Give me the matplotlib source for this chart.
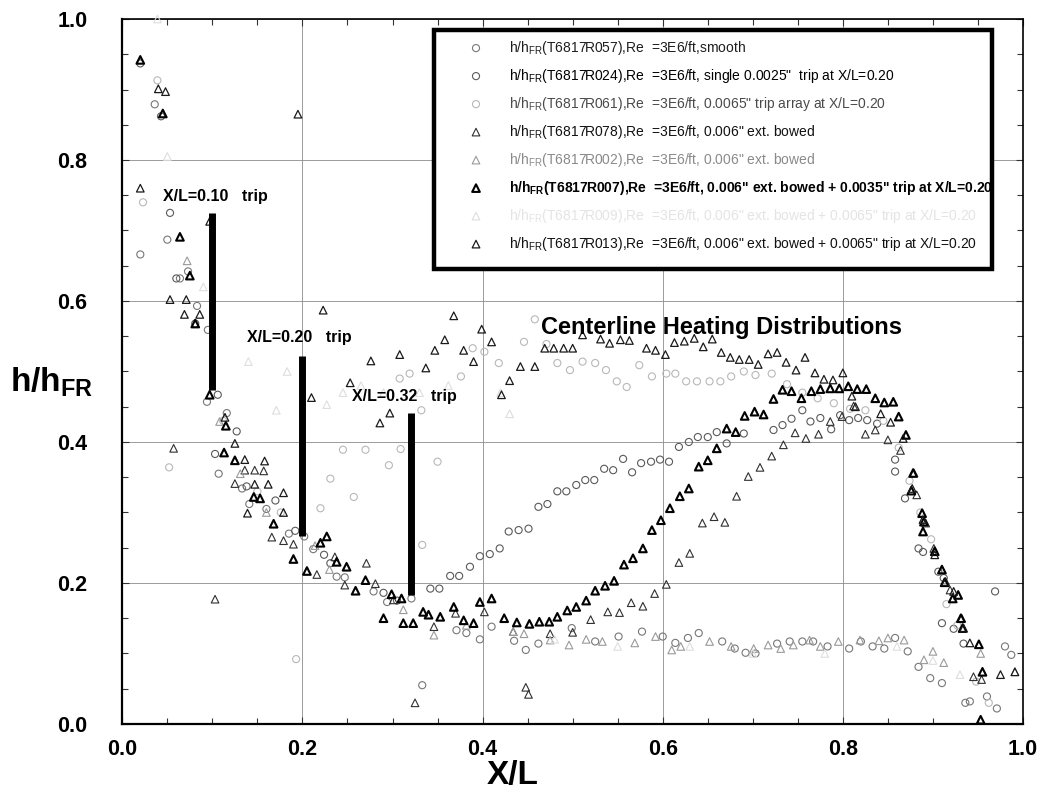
import numpy as np
import matplotlib
matplotlib.use("Agg")
import matplotlib.pyplot as plt
from matplotlib.patches import Rectangle
from matplotlib.ticker import MultipleLocator

plt.rcParams["font.family"] = ["Liberation Sans", "DejaVu Sans"]
plt.rcParams["mathtext.fontset"] = "custom"
plt.rcParams["mathtext.rm"] = "Liberation Sans"
plt.rcParams["mathtext.it"] = "Liberation Sans:italic"
plt.rcParams["mathtext.bf"] = "Liberation Sans:bold"

# ---- centerline heating data, columns: X/L, h/h_FR ----
run_R057 = np.array([
    [0.020, 0.666], [0.036, 0.879], [0.050, 0.687], [0.064, 0.632], [0.073, 0.642],
    [0.083, 0.593], [0.095, 0.559], [0.094, 0.457], [0.116, 0.441], [0.107, 0.355],
    [0.133, 0.334], [0.141, 0.312], [0.160, 0.305], [0.185, 0.270], [0.202, 0.266],
    [0.212, 0.248], [0.238, 0.209], [0.247, 0.208], [0.279, 0.188], [0.294, 0.173],
    [0.321, 0.178], [0.333, 0.055], [0.371, 0.133], [0.382, 0.129], [0.397, 0.120],
    [0.410, 0.138], [0.435, 0.118], [0.448, 0.105], [0.462, 0.114], [0.499, 0.136],
    [0.525, 0.117], [0.551, 0.124], [0.577, 0.131], [0.600, 0.124], [0.614, 0.115],
    [0.628, 0.122], [0.640, 0.129], [0.666, 0.117], [0.680, 0.107], [0.692, 0.101],
    [0.703, 0.100], [0.727, 0.114], [0.741, 0.117], [0.755, 0.117], [0.767, 0.117],
    [0.783, 0.110], [0.807, 0.107], [0.820, 0.117], [0.833, 0.110], [0.846, 0.107],
    [0.858, 0.122], [0.872, 0.103], [0.884, 0.081], [0.897, 0.065], [0.910, 0.058],
    [0.936, 0.030], [0.941, 0.032], [0.960, 0.039], [0.971, 0.022], [0.980, 0.110],
    [0.987, 0.098],
])

run_R024 = np.array([
    [0.020, 0.937], [0.043, 0.862], [0.053, 0.725], [0.060, 0.632], [0.081, 0.568],
    [0.106, 0.467], [0.103, 0.383], [0.127, 0.415], [0.138, 0.337], [0.170, 0.317],
    [0.192, 0.274], [0.224, 0.240], [0.231, 0.228], [0.290, 0.186], [0.305, 0.175],
    [0.342, 0.192], [0.352, 0.192], [0.364, 0.210], [0.374, 0.210], [0.386, 0.223],
    [0.397, 0.238], [0.408, 0.241], [0.419, 0.249], [0.429, 0.273], [0.440, 0.275],
    [0.451, 0.277], [0.462, 0.308], [0.472, 0.312], [0.483, 0.330], [0.493, 0.330],
    [0.504, 0.339], [0.514, 0.346], [0.524, 0.346], [0.535, 0.362], [0.545, 0.360],
    [0.556, 0.376], [0.566, 0.357], [0.576, 0.370], [0.587, 0.372], [0.597, 0.375],
    [0.607, 0.372], [0.618, 0.393], [0.629, 0.400], [0.639, 0.407], [0.650, 0.407],
    [0.660, 0.414], [0.671, 0.398], [0.690, 0.412], [0.723, 0.417], [0.733, 0.424],
    [0.743, 0.433], [0.755, 0.445], [0.764, 0.429], [0.775, 0.434], [0.787, 0.418],
    [0.797, 0.438], [0.807, 0.431], [0.817, 0.434], [0.827, 0.431], [0.838, 0.426],
    [0.858, 0.375], [0.858, 0.358], [0.869, 0.320], [0.884, 0.249], [0.889, 0.244],
    [0.906, 0.216], [0.912, 0.207], [0.910, 0.143], [0.923, 0.135], [0.934, 0.114],
    [0.969, 0.188],
])

run_R061 = np.array([
    [0.039, 0.913], [0.023, 0.740], [0.052, 0.364], [0.112, 0.430], [0.150, 0.330],
    [0.176, 0.300], [0.193, 0.092], [0.220, 0.306], [0.231, 0.348], [0.245, 0.389],
    [0.257, 0.322], [0.270, 0.389], [0.296, 0.367], [0.309, 0.390], [0.333, 0.254],
    [0.308, 0.490], [0.319, 0.497], [0.332, 0.445], [0.350, 0.372], [0.376, 0.493],
    [0.389, 0.533], [0.402, 0.528], [0.418, 0.512], [0.446, 0.542], [0.458, 0.574],
    [0.471, 0.539], [0.483, 0.512], [0.497, 0.502], [0.511, 0.514], [0.525, 0.512],
    [0.537, 0.502], [0.549, 0.486], [0.560, 0.478], [0.574, 0.509], [0.588, 0.493],
    [0.604, 0.497], [0.614, 0.497], [0.626, 0.486], [0.638, 0.486], [0.652, 0.486],
    [0.664, 0.486], [0.676, 0.493], [0.690, 0.500], [0.703, 0.495], [0.721, 0.497],
    [0.738, 0.482], [0.755, 0.470], [0.772, 0.462], [0.790, 0.455], [0.808, 0.447],
    [0.825, 0.445], [0.845, 0.430], [0.862, 0.392], [0.874, 0.345], [0.886, 0.300],
    [0.898, 0.262], [0.915, 0.170], [0.927, 0.140], [0.948, 0.060], [0.962, 0.030],
])

run_R078 = np.array([
    [0.057, 0.391], [0.103, 0.177], [0.125, 0.341], [0.136, 0.360], [0.147, 0.360],
    [0.157, 0.359], [0.166, 0.265], [0.179, 0.260], [0.190, 0.255], [0.216, 0.212],
    [0.236, 0.237], [0.247, 0.197], [0.271, 0.228], [0.281, 0.199], [0.301, 0.176],
    [0.325, 0.030], [0.346, 0.138], [0.370, 0.157], [0.402, 0.159], [0.434, 0.131],
    [0.448, 0.052], [0.451, 0.042], [0.475, 0.128], [0.500, 0.130], [0.520, 0.148],
    [0.539, 0.159], [0.552, 0.158], [0.565, 0.172], [0.578, 0.167], [0.591, 0.185],
    [0.604, 0.198], [0.618, 0.229], [0.630, 0.242], [0.644, 0.285], [0.657, 0.294],
    [0.669, 0.286], [0.682, 0.323], [0.695, 0.351], [0.708, 0.364], [0.721, 0.380],
    [0.734, 0.396], [0.747, 0.413], [0.759, 0.405], [0.773, 0.411], [0.786, 0.429],
    [0.799, 0.436], [0.812, 0.451], [0.825, 0.411], [0.836, 0.417], [0.850, 0.403],
    [0.864, 0.388], [0.879, 0.356], [0.882, 0.325], [0.892, 0.285], [0.901, 0.249],
    [0.910, 0.219], [0.919, 0.190], [0.932, 0.150], [0.945, 0.067], [0.954, 0.063],
])

run_R002 = np.array([
    [0.072, 0.657], [0.108, 0.429], [0.131, 0.355], [0.160, 0.300], [0.214, 0.253],
    [0.230, 0.219], [0.312, 0.162], [0.346, 0.126], [0.382, 0.140], [0.434, 0.131],
    [0.446, 0.128], [0.475, 0.119], [0.496, 0.112], [0.515, 0.120], [0.533, 0.117],
    [0.569, 0.115], [0.592, 0.124], [0.610, 0.105], [0.620, 0.110], [0.652, 0.117],
    [0.676, 0.110], [0.701, 0.107], [0.717, 0.112], [0.731, 0.107], [0.745, 0.112],
    [0.763, 0.119], [0.775, 0.110], [0.795, 0.117], [0.819, 0.119], [0.840, 0.118],
    [0.850, 0.122], [0.868, 0.119], [0.890, 0.091], [0.900, 0.103], [0.912, 0.087],
    [0.953, 0.100], [0.991, 0.074],
])

run_R007 = np.array([
    [0.020, 0.942], [0.045, 0.866], [0.064, 0.691], [0.075, 0.636], [0.081, 0.568],
    [0.097, 0.467], [0.115, 0.423], [0.113, 0.385], [0.125, 0.374], [0.146, 0.322],
    [0.153, 0.320], [0.168, 0.284], [0.190, 0.234], [0.205, 0.217], [0.220, 0.257],
    [0.227, 0.266], [0.238, 0.230], [0.249, 0.223], [0.270, 0.204], [0.259, 0.189],
    [0.299, 0.184], [0.310, 0.178], [0.290, 0.150], [0.312, 0.143], [0.323, 0.143],
    [0.334, 0.159], [0.340, 0.155], [0.353, 0.152], [0.368, 0.166], [0.379, 0.147],
    [0.390, 0.143], [0.397, 0.173], [0.410, 0.178], [0.424, 0.150], [0.438, 0.144],
    [0.452, 0.142], [0.463, 0.145], [0.474, 0.145], [0.483, 0.152], [0.494, 0.161],
    [0.504, 0.166], [0.515, 0.175], [0.525, 0.189], [0.536, 0.196], [0.546, 0.203],
    [0.557, 0.226], [0.567, 0.235], [0.578, 0.249], [0.588, 0.275], [0.598, 0.289],
    [0.608, 0.306], [0.619, 0.323], [0.629, 0.334], [0.640, 0.365], [0.650, 0.374],
    [0.660, 0.391], [0.671, 0.419], [0.681, 0.414], [0.691, 0.437], [0.702, 0.443],
    [0.712, 0.439], [0.723, 0.461], [0.733, 0.474], [0.743, 0.472], [0.754, 0.462],
    [0.765, 0.472], [0.775, 0.475], [0.786, 0.476], [0.796, 0.476], [0.806, 0.479],
    [0.816, 0.475], [0.826, 0.475], [0.836, 0.462], [0.846, 0.456], [0.856, 0.457],
    [0.862, 0.436], [0.870, 0.410], [0.878, 0.356], [0.876, 0.331], [0.888, 0.299],
    [0.890, 0.287], [0.889, 0.273], [0.902, 0.245], [0.910, 0.219], [0.913, 0.201],
    [0.922, 0.178], [0.928, 0.183], [0.931, 0.150], [0.933, 0.136], [0.951, 0.113],
    [0.955, 0.074], [0.953, 0.006],
])

run_R009 = np.array([
    [0.039, 1.000], [0.050, 0.805], [0.090, 0.620], [0.140, 0.514], [0.171, 0.445],
    [0.183, 0.500], [0.227, 0.453], [0.245, 0.470], [0.265, 0.480], [0.290, 0.470],
    [0.330, 0.470], [0.362, 0.480], [0.420, 0.470], [0.430, 0.440], [0.480, 0.120],
    [0.550, 0.110], [0.630, 0.110], [0.700, 0.100], [0.780, 0.100], [0.860, 0.110],
    [0.900, 0.090], [0.930, 0.070],
])

run_R013 = np.array([
    [0.020, 0.760], [0.040, 0.901], [0.048, 0.897], [0.053, 0.602], [0.069, 0.581],
    [0.071, 0.602], [0.086, 0.581], [0.097, 0.713], [0.114, 0.435], [0.125, 0.398],
    [0.136, 0.375], [0.158, 0.373], [0.147, 0.340], [0.162, 0.340], [0.179, 0.328],
    [0.139, 0.299], [0.179, 0.300], [0.195, 0.865], [0.210, 0.463], [0.223, 0.587],
    [0.253, 0.484], [0.276, 0.515], [0.286, 0.427], [0.297, 0.441], [0.308, 0.524],
    [0.337, 0.505], [0.347, 0.530], [0.358, 0.545], [0.368, 0.579], [0.379, 0.530],
    [0.390, 0.514], [0.399, 0.560], [0.410, 0.542], [0.421, 0.467], [0.430, 0.487],
    [0.442, 0.507], [0.458, 0.507], [0.469, 0.533], [0.479, 0.533], [0.490, 0.533],
    [0.500, 0.533], [0.511, 0.552], [0.531, 0.546], [0.541, 0.540], [0.553, 0.545],
    [0.563, 0.544], [0.582, 0.533], [0.592, 0.530], [0.603, 0.524], [0.613, 0.541],
    [0.624, 0.543], [0.635, 0.547], [0.645, 0.535], [0.655, 0.546], [0.665, 0.527],
    [0.675, 0.520], [0.685, 0.517], [0.696, 0.517], [0.706, 0.510], [0.717, 0.525],
    [0.727, 0.527], [0.737, 0.513], [0.748, 0.502], [0.758, 0.520], [0.769, 0.498],
    [0.779, 0.489], [0.789, 0.488], [0.800, 0.498], [0.810, 0.465], [0.814, 0.450],
    [0.842, 0.440], [0.853, 0.428], [0.867, 0.405], [0.877, 0.334], [0.889, 0.290],
    [0.902, 0.240], [0.914, 0.202], [0.923, 0.188], [0.934, 0.136], [0.941, 0.115],
    [0.975, 0.070], [0.991, 0.074],
])

# trip locations and the extent of the marker bars
trip_x = [0.10, 0.20, 0.32]
trip_bar_lo = [0.474, 0.266, 0.183]
trip_bar_hi = [0.725, 0.522, 0.441]
trip_labels = ["X/L=0.10   trip", "X/L=0.20   trip", "X/L=0.32   trip"]
trip_label_xy = [(0.045, 0.748), (0.139, 0.548), (0.255, 0.464)]

x_ticks = [0.0, 0.2, 0.4, 0.6, 0.8, 1.0]
x_tick_labels = ["0.0", "0.2", "0.4", "0.6", "0.8", "1.0"]
y_ticks = [0.0, 0.2, 0.4, 0.6, 0.8, 1.0]
y_tick_labels = ["0.0", "0.2", "0.4", "0.6", "0.8", "1.0"]

HH = r"$\mathregular{h/h_{FR}}$"
HHB = r"$\mathbf{h/h_{FR}}$"
series = [
    # data, marker, edge colour, edge width, label, label colour
    (run_R057, "o", "#777777", 0.8,
     HH + "(T6817R057),Re  =3E6/ft,smooth", "#1e1e1e"),
    (run_R024, "o", "#5a5a5a", 0.8,
     HH + "(T6817R024),Re  =3E6/ft, single 0.0025\"  trip at X/L=0.20", "#000000"),
    (run_R061, "o", "#b8b8b8", 0.8,
     HH + "(T6817R061),Re  =3E6/ft, 0.0065\" trip array at X/L=0.20", "#4a4a4a"),
    (run_R078, "^", "#303030", 0.8,
     HH + "(T6817R078),Re  =3E6/ft, 0.006\" ext. bowed", "#111111"),
    (run_R002, "^", "#9a9a9a", 0.8,
     HH + "(T6817R002),Re  =3E6/ft, 0.006\" ext. bowed", "#8a8a8a"),
    (run_R007, "^", "#000000", 1.5,
     HHB + "(T6817R007),Re  =3E6/ft, 0.006\" ext. bowed + 0.0035\" trip at X/L=0.20", "#000000"),
    (run_R009, "^", "#dedede", 0.8,
     HH + "(T6817R009),Re  =3E6/ft, 0.006\" ext. bowed + 0.0065\" trip at X/L=0.20", "#e4e4e4"),
    (run_R013, "^", "#1a1a1a", 0.9,
     HH + "(T6817R013),Re  =3E6/ft, 0.006\" ext. bowed + 0.0065\" trip at X/L=0.20", "#111111"),
]

fig = plt.figure(figsize=(10.39, 8.02), dpi=100)
ax = fig.add_axes([0.1177, 0.0973, 0.8669, 0.8790])

draw_order = [6, 2, 4, 0, 1, 3, 7, 5]
handles = [None] * len(series)
for i in draw_order:
    data, mk, col, lw, lab, _ = series[i]
    handles[i] = ax.scatter(data[:, 0], data[:, 1], s=26 if mk == "o" else 30,
                            marker=mk, facecolors="none", edgecolors=col,
                            linewidths=lw, label=lab, zorder=3 + i * 0.01,
                            clip_on=False)

# trip marker bars and their captions
ax.vlines(trip_x, trip_bar_lo, trip_bar_hi, colors="black", linewidth=5, zorder=4)
for txt, (tx, ty) in zip(trip_labels, trip_label_xy):
    ax.text(tx, ty, txt, fontsize=11.5, fontweight="bold", va="center", ha="left", zorder=4)

ax.text(0.465, 0.563, "Centerline Heating Distributions", fontsize=17,
        fontweight="bold", va="center", ha="left", zorder=4)

ax.set_xlim(0, 1)
ax.set_ylim(0, 1)
ax.set_xticks(x_ticks, labels=x_tick_labels, fontsize=15.5, fontweight="bold")
ax.set_yticks(y_ticks, labels=y_tick_labels, fontsize=15.5, fontweight="bold")
ax.xaxis.set_minor_locator(MultipleLocator(0.05))
ax.yaxis.set_minor_locator(MultipleLocator(0.05))
ax.tick_params(which="both", direction="in", top=True, right=True, color="#333333")
ax.tick_params(which="major", length=5, width=0.8)
ax.tick_params(which="minor", length=4, width=0.8)
ax.tick_params(axis="y", which="major", pad=25)
ax.tick_params(axis="x", which="major", pad=11)
ax.grid(True, which="major", color="#8c8c8c", linewidth=0.6)
ax.set_axisbelow(True)
for side in ["left", "bottom"]:
    ax.spines[side].set_linewidth(1.6)
for side in ["right", "top"]:
    ax.spines[side].set_linewidth(1.2)

ax.set_xlabel("X/L", fontsize=24, fontweight="bold", va="center")
ax.xaxis.set_label_coords(0.433, -0.073)
ax.set_ylabel(HHB, fontsize=24, rotation=0, ha="left", va="center")
ax.yaxis.set_label_coords(-0.1247, 0.484)

# legend panel with a heavy frame
ax.add_patch(Rectangle((0.3461, 0.6454), 0.6197, 0.339, transform=ax.transAxes,
                       facecolor="white", edgecolor="black", linewidth=3.2, zorder=5,
                       clip_on=False))
leg = ax.legend(handles=handles, loc="upper left", bbox_to_anchor=(0.385, 0.972),
                frameon=False, fontsize=10, handlelength=1.0, handletextpad=1.9,
                labelspacing=0.72, borderpad=0, borderaxespad=0, scatterpoints=1)
leg.set_zorder(6)
for t, s in zip(leg.get_texts(), series):
    t.set_color(s[5])
leg.get_texts()[5].set_fontweight("bold")

fig.savefig("out.png", dpi=100)
